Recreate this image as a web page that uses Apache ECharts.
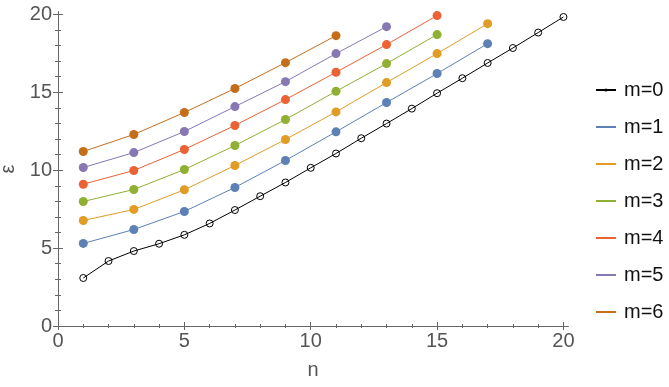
<!DOCTYPE html>
<html>
<head>
<meta charset="utf-8">
<script src="https://cdn.jsdelivr.net/npm/echarts@6/dist/echarts.min.js"></script>
<style>
  html, body { margin: 0; padding: 0; background: #fff; }
  #main { width: 669px; height: 387px; }
</style>
</head>
<body>
<div id="main"></div>
<script>
// n values
var nAll = [1, 2, 3, 4, 5, 6, 7, 8, 9, 10, 11, 12, 13, 14, 15, 16, 17, 18, 19, 20];
var nOdd = [1, 3, 5, 7, 9, 11, 13, 15, 17];

// energies
var m0 = [3.08, 4.17, 4.81, 5.28, 5.85, 6.58, 7.44, 8.33, 9.21, 10.15, 11.07, 12.05, 12.99, 13.95, 14.94, 15.9, 16.88, 17.84, 18.83, 19.83];
var m1 = [5.30, 6.19, 7.35, 8.89, 10.62, 12.46, 14.34, 16.2, 18.12];
var m2 = [6.77, 7.48, 8.74, 10.3, 11.97, 13.74, 15.62, 17.48, 19.4];
var m3 = [7.99, 8.76, 10.04, 11.58, 13.25, 15.06, 16.84, 18.7];
var m4 = [9.10, 9.98, 11.33, 12.87, 14.53, 16.28, 18.06, 19.92];
var m5 = [10.17, 11.13, 12.48, 14.08, 15.68, 17.48, 19.21];
var m6 = [11.2, 12.29, 13.7, 15.24, 16.9, 18.63];

var names = ['m=0', 'm=1', 'm=2', 'm=3', 'm=4', 'm=5', 'm=6'];
var colors = ['#000000', '#5E81B5', '#E09C24', '#8FB032', '#EB6235', '#8778B3', '#C56E1A'];

var majorTicks = [0, 5, 10, 15, 20];
var minorTicks = [1, 2, 3, 4, 6, 7, 8, 9, 11, 12, 13, 14, 16, 17, 18, 19];

var frameColor = '#666';
var labelColor = '#555';

function pairs(xs, ys) {
    return ys.map(function (y, i) { return [xs[i], y]; });
}

function makeAxis(kind, pos, ticks, len, withLabel, extra) {
    var ax = {
        type: 'value',
        position: pos,
        min: 0,
        max: kind === 'x' ? 20.18 : 20.15,
        axisLine: { show: true, lineStyle: { color: frameColor, width: 1 } },
        axisTick: { show: true, inside: true, length: len, customValues: ticks, lineStyle: { color: frameColor, width: 1 } },
        axisLabel: withLabel
            ? { show: true, customValues: majorTicks, color: labelColor, fontSize: 20, fontFamily: 'Liberation Sans', margin: kind === 'x' ? 5 : 6 }
            : { show: false },
        splitLine: { show: false }
    };
    return Object.assign(ax, extra || {});
}

var myChart = echarts.init(document.getElementById('main'));

var series = [{
    name: names[0],
    type: 'line',
    data: pairs(nAll, m0),
    symbol: 'circle',
    symbolSize: 7,
    lineStyle: { color: colors[0], width: 1 },
    itemStyle: { color: 'rgba(0,0,0,0)', borderColor: '#000', borderWidth: 1 },
    z: 3
}];
[m1, m2, m3, m4, m5, m6].forEach(function (vals, k) {
    series.push({
        name: names[k + 1],
        type: 'line',
        data: pairs(nOdd, vals),
        symbol: 'circle',
        symbolSize: 9,
        lineStyle: { color: colors[k + 1], width: 1 },
        itemStyle: { color: colors[k + 1] }
    });
});

var legendData = names.map(function (nm, i) {
    if (i === 0) {
        return { name: nm, itemStyle: { color: '#000', borderWidth: 0, opacity: 1 } };
    }
    return { name: nm, itemStyle: { opacity: 0 } };
});

myChart.setOption({
    animation: false,
    backgroundColor: '#fff',
    grid: { left: 58, right: 101, top: 12, bottom: 61, containLabel: false, outerBoundsMode: 'none' },
    legend: {
        orient: 'vertical',
        left: 590,
        top: 75,
        itemWidth: 20,
        itemHeight: 4,
        itemGap: 17,
        data: legendData,
        textStyle: { color: '#111', fontSize: 20, fontFamily: 'Liberation Sans', padding: [0, 0, 0, 3] }
    },
    xAxis: [
        makeAxis('x', 'bottom', majorTicks, 4, true, {
            name: 'n', nameLocation: 'middle', nameGap: 34,
            nameTextStyle: { color: labelColor, fontSize: 20, fontFamily: 'Liberation Sans' }
        }),
        makeAxis('x', 'bottom', minorTicks, 2, false),
        makeAxis('x', 'top', majorTicks, 4, false),
        makeAxis('x', 'top', minorTicks, 2, false)
    ],
    yAxis: [
        makeAxis('y', 'left', majorTicks, 5, true, {
            name: 'ε', nameLocation: 'middle', nameGap: 38,
            nameTextStyle: { color: labelColor, fontSize: 20, fontFamily: 'Liberation Sans' }
        }),
        makeAxis('y', 'left', minorTicks, 3, false),
        makeAxis('y', 'right', majorTicks, 5, false),
        makeAxis('y', 'right', minorTicks, 3, false)
    ],
    series: series
});
</script>
</body>
</html>
